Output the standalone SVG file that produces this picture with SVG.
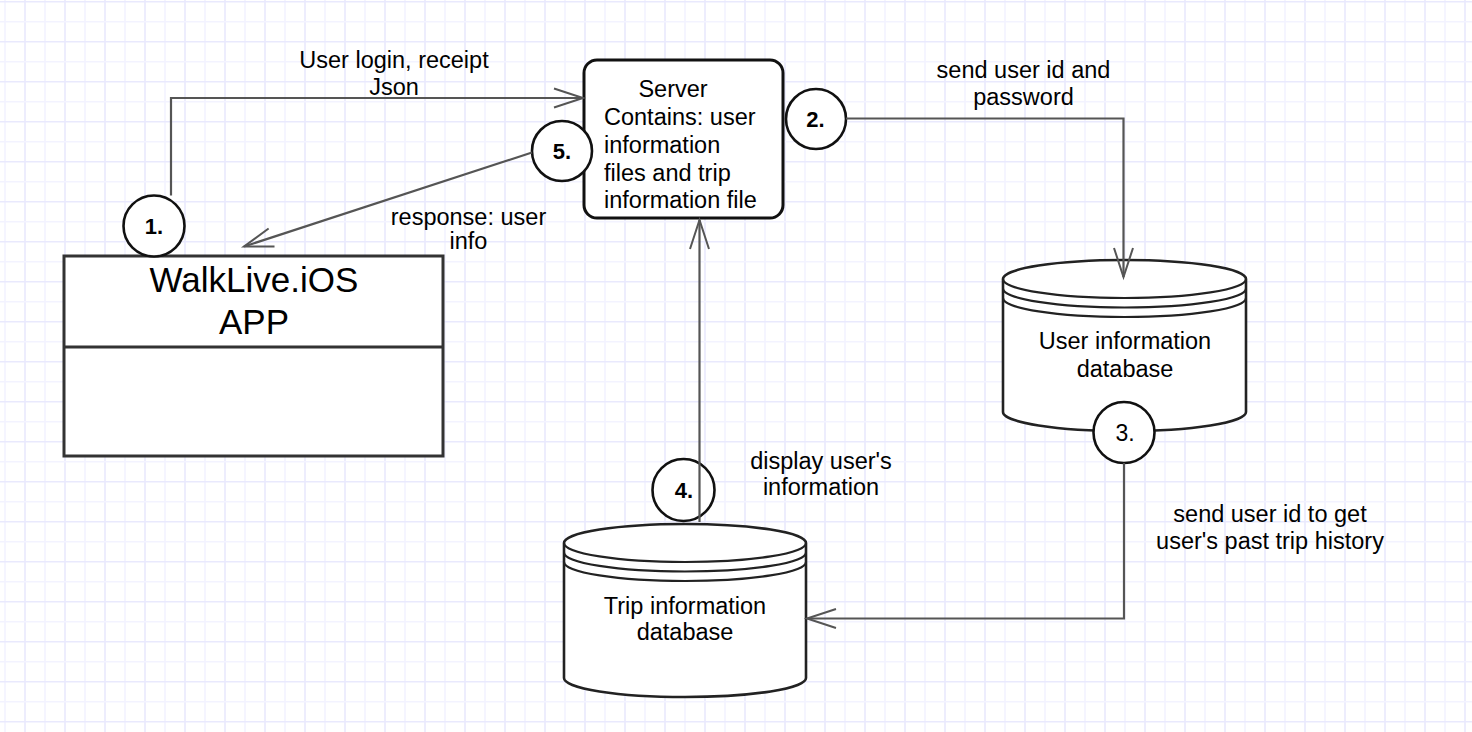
<svg xmlns="http://www.w3.org/2000/svg" width="1472" height="732" viewBox="0 0 1472 732">
<defs>
<pattern id="grid" x="0" y="0" width="40" height="40" patternUnits="userSpaceOnUse">
<line x1="5" y1="0" x2="5" y2="40" stroke="#f3f3ff" stroke-width="1.6"/>
<line x1="25" y1="0" x2="25" y2="40" stroke="#e9e9fd" stroke-width="1.6"/>
<line x1="0" y1="21.7" x2="40" y2="21.7" stroke="#f3f3ff" stroke-width="1.6"/>
<line x1="0" y1="1.7" x2="40" y2="1.7" stroke="#e9e9fd" stroke-width="1.6"/>
</pattern>
<marker id="open" markerUnits="userSpaceOnUse" markerWidth="40" markerHeight="30" refX="0" refY="0" viewBox="-32 -15 40 30" orient="auto" overflow="visible">
<path d="M-29,-9.5 L0,0 L-29,9.5" fill="none" stroke="#555" stroke-width="2"/>
</marker>
<style>
.t{font-family:"Liberation Sans",Arial,sans-serif;font-size:23.5px;fill:#000}
.m{text-anchor:middle}
.num{font-family:"Liberation Sans",Arial,sans-serif;font-size:22px;font-weight:bold;text-anchor:middle;fill:#000}
.numr{font-family:"Liberation Sans",Arial,sans-serif;font-size:23px;text-anchor:middle;fill:#000}
.circ{fill:#fff;stroke:#111;stroke-width:2.6}
.db{fill:#fff;stroke:#222;stroke-width:2.6}
.dbl{fill:none;stroke:#222;stroke-width:2.2}
.conn{fill:none;stroke:#555;stroke-width:2.2}
</style>
</defs>
<rect x="0" y="0" width="1472" height="732" fill="#fff"/>
<rect x="0" y="0" width="1472" height="732" fill="url(#grid)"/>

<g id="app">
<rect x="64" y="256" width="379" height="200" fill="#fff" stroke="#333" stroke-width="3"/>
<line x1="64" y1="347" x2="443" y2="347" stroke="#333" stroke-width="3"/>
<text class="t m" x="254" y="292" style="font-size:35px">WalkLive.iOS</text>
<text class="t m" x="254" y="334" style="font-size:35px">APP</text>
</g>

<g id="server">
<rect x="584" y="60" width="199" height="158" rx="13" fill="#fff" stroke="#111" stroke-width="3"/>
<text class="t m" x="673" y="97">Server</text>
<text class="t" x="604" y="125">Contains: user</text>
<text class="t" x="604" y="153">information</text>
<text class="t" x="604" y="180.5">files and trip</text>
<text class="t" x="604" y="208">information file</text>
</g>

<g id="userdb">
<path class="db" d="M1003,279 A121.5,19 0 0 1 1124.5,260 A121.5,19 0 0 1 1246,279 L1246,412 A121.5,19 0 0 1 1124.5,431 A121.5,19 0 0 1 1003,412 Z"/>
<path class="dbl" d="M1003,279 A121.5,19 0 0 0 1124.5,298 A121.5,19 0 0 0 1246,279 M1003,288.5 A121.5,19 0 0 0 1124.5,307.5 A121.5,19 0 0 0 1246,288.5 M1003,298 A121.5,19 0 0 0 1124.5,317 A121.5,19 0 0 0 1246,298"/>
<text class="t m" x="1125" y="349">User information</text>
<text class="t m" x="1125" y="377">database</text>
</g>

<g id="tripdb">
<path class="db" d="M564,543 A121,19 0 0 1 685,524 A121,19 0 0 1 806,543 L806,678 A121,19 0 0 1 685,697 A121,19 0 0 1 564,678 Z"/>
<path class="dbl" d="M564,543 A121,19 0 0 0 685,562 A121,19 0 0 0 806,543 M564,552.5 A121,19 0 0 0 685,571.5 A121,19 0 0 0 806,552.5 M564,562 A121,19 0 0 0 685,581 A121,19 0 0 0 806,562"/>
<text class="t m" x="685" y="613.5">Trip information</text>
<text class="t m" x="685" y="640">database</text>
</g>

<g id="step1">
<circle class="circ" cx="154" cy="226" r="30.5"/>
<text class="num" x="154" y="234">1.</text>
</g>
<g id="step2">
<circle class="circ" cx="816" cy="119" r="30"/>
<text class="num" x="815.5" y="127">2.</text>
</g>
<g id="step3">
<circle class="circ" cx="1124" cy="432.5" r="30.5"/>
<text class="numr" x="1125" y="440.5">3.</text>
</g>
<g id="step4">
<circle class="circ" cx="683.5" cy="490" r="31"/>
<text class="num" x="684" y="497.5">4.</text>
</g>
<g id="step5">
<circle class="circ" cx="562" cy="151" r="30"/>
<text class="num" x="562" y="158.5">5.</text>
</g>

<g id="connectors">
<path class="conn" d="M171,195.5 L171,98 L583,98" marker-end="url(#open)"/>
<path class="conn" d="M532,152.5 L244,246.5" marker-end="url(#open)"/>
<path class="conn" d="M846,118.5 L1123.5,118.5 L1123.5,277" marker-end="url(#open)"/>
<path class="conn" d="M1124,463 L1124,618.5 L807,618.5" marker-end="url(#open)"/>
<path class="conn" d="M699.5,522 L699.5,220" marker-end="url(#open)"/>
</g>

<g id="labels">
<text class="t m" x="394" y="67.5">User login, receipt</text>
<text class="t m" x="394" y="95">Json</text>
<text class="t m" x="468.5" y="225">response: user</text>
<text class="t m" x="468.5" y="248.5">info</text>
<text class="t m" x="1023.5" y="77.5">send user id and</text>
<text class="t m" x="1023.5" y="105">password</text>
<text class="t m" x="821" y="468.5">display user's</text>
<text class="t m" x="821" y="495">information</text>
<text class="t m" x="1270" y="522">send user id to get</text>
<text class="t m" x="1270" y="549">user's past trip history</text>
</g>
</svg>
